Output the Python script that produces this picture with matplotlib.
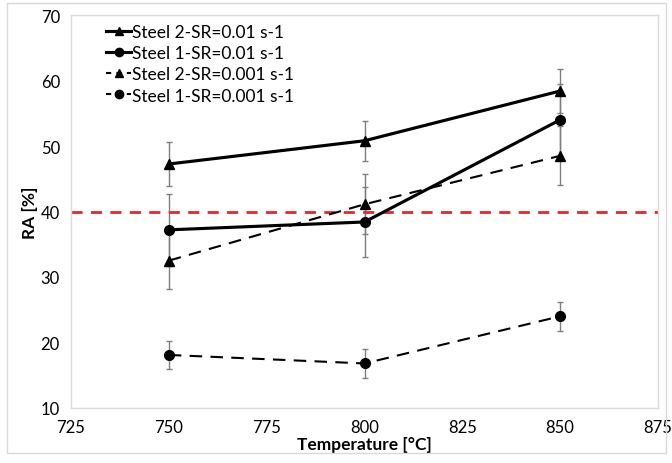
import numpy as np
import matplotlib.pyplot as plt
from matplotlib.patches import Rectangle
from matplotlib.lines import Line2D

plt.rcParams['font.family'] = ['Lato', 'DejaVu Sans']

# dados
temps = [750, 800, 850]
s2_fast = [47.25, 50.8, 58.4]
s2_fast_err = [3.3, 3.05, 3.35]
s1_fast = [37.2, 38.4, 54.0]
s1_fast_err = [5.5, 5.3, 5.5]
s2_slow = [32.5, 41.1, 48.5]
s2_slow_err = [4.4, 4.6, 4.5]
s1_slow = [18.1, 16.8, 24.0]
s1_slow_err = [2.2, 2.2, 2.2]
limite = 40
nomes = ['Steel 2-SR=0.01 s-1', 'Steel 1-SR=0.01 s-1',
         'Steel 2-SR=0.001 s-1', 'Steel 1-SR=0.001 s-1']

fig = plt.figure(figsize=(6.72, 4.64), dpi=100)
ax = fig.add_axes([71/672, 1-409/464, (658-71)/672, (409-16)/464])

# moldura da figura
fig.patches.append(Rectangle((7/672, 1-454/464), (666-7)/672, (454-4)/464,
                             transform=fig.transFigure, fill=False,
                             edgecolor='#d9d9d9', lw=1))

ebkw = dict(ecolor='#7f7f7f', elinewidth=1, capsize=2.5, capthick=1)
dash = (0, (6, 4))

series = [(s2_fast, s2_fast_err, '^', '-', 2.25),
          (s1_fast, s1_fast_err, 'o', '-', 2.25),
          (s2_slow, s2_slow_err, '^', dash, 1.5),
          (s1_slow, s1_slow_err, 'o', dash, 1.5)]

handles = []
for (y, e, m, ls, lw), nome in zip(series, nomes):
    ax.errorbar(temps, y, yerr=e, color='black', lw=lw, ls=ls, marker=m, ms=7, **ebkw)
    handles.append(Line2D([], [], color='black', lw=lw,
                          ls=ls if ls == '-' else (0, (2.5, 2.5)), marker=m, ms=6))

ax.axhline(limite, color='#e0292b', lw=2, ls=(0, (4, 3)))

ax.set_xlim(725, 875)
ax.set_ylim(10, 70)
ax.set_xticks(np.arange(725, 876, 25))
ax.set_yticks(np.arange(10, 71, 10))
ax.tick_params(length=0, labelsize=12, pad=8)
for s in ax.spines.values():
    s.set_color('#d9d9d9')
    s.set_linewidth(1)

ax.set_xlabel('Temperature [°C]', fontsize=12.5, fontweight='bold', labelpad=1)
ax.set_ylabel('RA [%]', fontsize=12.5, fontweight='bold', labelpad=2)

ax.legend(handles, nomes, loc='upper left', frameon=False, fontsize=12.5,
          handlelength=1.45, handletextpad=0.05, labelspacing=0.3,
          borderaxespad=0.0, bbox_to_anchor=(0.048, 0.995))

fig.savefig('out.png', dpi=100)
